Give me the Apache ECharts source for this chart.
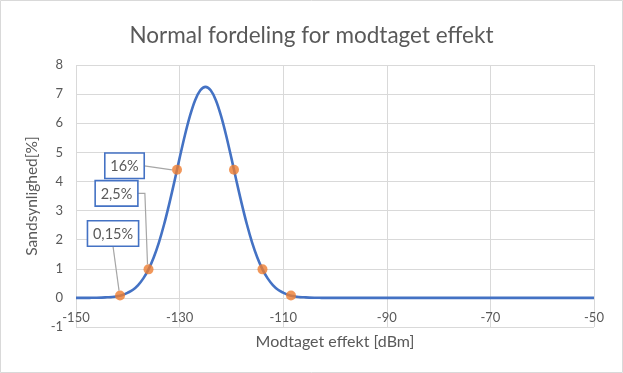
<!DOCTYPE html>
<html>
<head>
<meta charset="utf-8">
<script src="https://cdn.jsdelivr.net/npm/echarts@6/dist/echarts.min.js"></script>
<style>
html,body{margin:0;padding:0;background:#fff;}
#c{width:623px;height:373px;}
</style>
</head>
<body>
<div id="c"></div>
<script>
// Received power [dBm] and probability [%]
const effektX = [
  -150,-149,-148,-147,-146,-145,-144,-143,-142,-141,
  -140,-139,-138,-137,-136,-135,-134,-133,-132,-131,
  -130,-129,-128,-127,-126,-125,-124,-123,-122,-121,
  -120,-119,-118,-117,-116,-115,-114,-113,-112,-111,
  -110,-109,-108,-107,-106,-105,-104,-103,-102,-101,
  -100,-95,-90,-85,-80,-75,-70,-65,-60,-55,-50
];
const sandsynlighed = [
  0,0,0,0.003,0.005,0.01,0.02,0.03,0.06,0.1,
  0.18,0.28,0.44,0.67,0.98,1.39,1.9,2.52,3.23,4.0,
  4.8,5.57,6.25,6.79,7.13,7.25,7.13,6.79,6.25,5.57,
  4.8,4.0,3.23,2.52,1.9,1.39,0.98,0.67,0.44,0.28,
  0.18,0.1,0.06,0.03,0.02,0.01,0.005,0.003,0,0,
  0,0,0,0,0,0,0,0,0,0,0
];
// Marked points (mean ± 1, 2, 3 sigma)
const punktX = [-141.5, -136, -130.5, -119.5, -114, -108.5];
const punktY = [0.08, 0.98, 4.4, 4.4, 0.98, 0.08];
const punktLabels = ['0,15%', '2,5%', '16%', '', '', ''];
// Axis ticks
const xTicks = [-150, -130, -110, -90, -70, -50];
const yTicks = [-1, 0, 1, 2, 3, 4, 5, 6, 7, 8];

const FONT = 'Lato';
const GREY = '#595959';
const GRID = '#d9d9d9';

// pick a font size so a text gets a given pixel width
const mctx = document.createElement('canvas').getContext('2d');
function fit(text, width, lo, hi) {
  mctx.font = '100px ' + FONT;
  const w = mctx.measureText(text).width;
  let s = 100 * width / w;
  return Math.max(lo, Math.min(hi, Math.round(s * 2) / 2));
}
const titleSize = fit('Normal fordeling for modtaget effekt', 360, 16, 26);
const xNameSize = fit('Modtaget effekt [dBm]', 158, 12, 18);
const yNameSize = fit('Sandsynlighed[%]', 121, 12, 18);
const tickSize = fit('-130', 27, 12, 16);
const lblSize = fit('0,15%', 40, 12, 16);

const curveData = effektX.map((x, i) => [x, sandsynlighed[i]]);
const pointData = punktX.map((x, i) => [x, punktY[i]]);

// label box offsets (box centre relative to its point) and leader style
const labelOffsets = [[-7, -62], [-32, -76], [-52.5, -4]];
const leaderKind = ['bottom', 'elbow', 'side'];

const chart = echarts.init(document.getElementById('c'), null, {renderer: 'canvas'});
chart.setOption({
  animation: false,
  backgroundColor: '#fff',
  title: {
    text: 'Normal fordeling for modtaget effekt',
    left: 'center',
    top: 19,
    textStyle: {fontFamily: FONT, fontSize: titleSize, fontWeight: 'normal', color: GREY}
  },
  grid: {left: 76, right: 29, top: 65, bottom: 46, containLabel: false, outerBoundsMode: 'none'},
  xAxis: {
    type: 'value',
    min: xTicks[0], max: xTicks[xTicks.length - 1], interval: 20,
    name: 'Modtaget effekt [dBm]',
    nameLocation: 'middle',
    nameGap: 7,
    nameTextStyle: {fontFamily: FONT, fontSize: xNameSize, color: GREY},
    axisLine: {show: false, onZero: false},
    axisTick: {show: false},
    axisLabel: {fontFamily: FONT, fontSize: tickSize, color: GREY, margin: -16},
    splitLine: {show: true, lineStyle: {color: GRID, width: 1}}
  },
  yAxis: {
    type: 'value',
    min: yTicks[0], max: yTicks[yTicks.length - 1], interval: 1,
    name: 'Sandsynlighed[%]',
    nameLocation: 'middle',
    nameGap: 34,
    nameTextStyle: {fontFamily: FONT, fontSize: yNameSize, color: GREY},
    axisLine: {show: false},
    axisTick: {show: false},
    axisLabel: {fontFamily: FONT, fontSize: tickSize, color: GREY, margin: 13},
    splitLine: {show: true, lineStyle: {color: GRID, width: 1}}
  },
  series: [
    {
      type: 'line',
      data: curveData,
      showSymbol: false,
      smooth: 0.35,
      lineStyle: {color: '#4472C4', width: 2.6},
      z: 2
    },
    {
      type: 'scatter',
      data: pointData,
      symbolSize: 10,
      itemStyle: {color: '#ED7D31'},
      z: 3
    }
  ]
});

// Data labels with leader lines, positioned from the points' pixel positions
mctx.font = lblSize + 'px ' + FONT;
const graphics = [{
  type: 'rect', silent: true, z: 100,
  shape: {x: 0.5, y: 0.5, width: 622, height: 372},
  style: {fill: null, stroke: GRID, lineWidth: 1}
}];
punktLabels.forEach((txt, i) => {
  if (!txt) return;
  const p = chart.convertToPixel({gridIndex: 0}, pointData[i]);
  const px = p[0], py = p[1];
  const o = labelOffsets[i];
  const cx = px + o[0], cy = py + o[1];
  const hw = (mctx.measureText(txt).width + 11) / 2;
  const hh = (lblSize + 11) / 2;
  let pts;
  if (leaderKind[i] === 'side') {
    pts = [[cx + hw, cy], [px - 5, py]];
  } else if (leaderKind[i] === 'elbow') {
    pts = [[cx + hw, cy], [cx + hw + 7, cy], [px - 1, py - 5]];
  } else {
    pts = [[cx, cy + hh], [px - 1, py - 5]];
  }
  graphics.push({
    type: 'polyline', silent: true, z: 50,
    shape: {points: pts},
    style: {stroke: '#a6a6a6', lineWidth: 1.2, fill: null}
  });
  graphics.push({
    type: 'rect', silent: true, z: 51,
    shape: {x: cx - hw, y: cy - hh, width: hw * 2, height: hh * 2},
    style: {fill: '#fff', stroke: '#4472C4', lineWidth: 1.6}
  });
  graphics.push({
    type: 'text', silent: true, z: 52,
    x: cx, y: cy + 0.5,
    style: {text: txt, fill: GREY, font: lblSize + 'px ' + FONT, align: 'center', verticalAlign: 'middle'}
  });
});
chart.setOption({graphic: graphics});
</script>
</body>
</html>
